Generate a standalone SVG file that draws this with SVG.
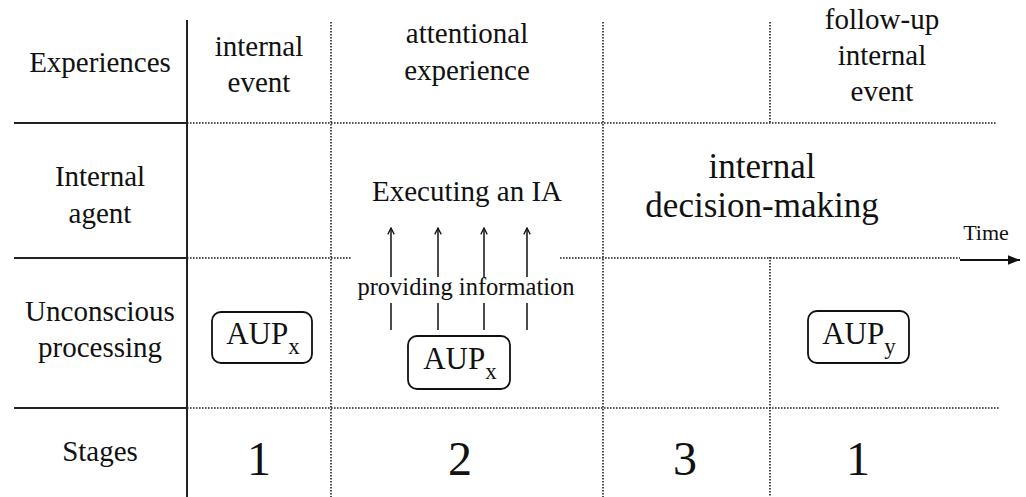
<svg xmlns="http://www.w3.org/2000/svg" width="1026" height="497" viewBox="0 0 1026 497">
<style>
text{font-family:"Liberation Serif","Times New Roman",serif;fill:#111;text-anchor:middle}
.lab{font-size:29px}
.big{font-size:35px}
.aup{font-size:31px}
.sub{font-size:23px}
.num{font-size:48px}
.solid{stroke:#222;stroke-width:2;fill:none}
.dot{stroke:#222;stroke-width:1.6;stroke-dasharray:1.6 1.4;fill:none}
.ln{stroke:#111;stroke-width:1.5;fill:none}
.box{stroke:#111;stroke-width:1.8;fill:#fff}
</style>
<defs>
<marker id="ah" viewBox="0 0 10 10" refX="9" refY="5" markerWidth="8" markerHeight="8" orient="auto" markerUnits="userSpaceOnUse"><path d="M1,1 L9,5 L1,9" fill="none" stroke="#111" stroke-width="1.6"/></marker>
<marker id="big" viewBox="0 0 10 10" refX="10" refY="5" markerWidth="12" markerHeight="12" orient="auto" markerUnits="userSpaceOnUse"><path d="M0,1 L10,5 L0,9 z" fill="#111"/></marker>
</defs>
<g id="grid">
<line class="solid" x1="187" y1="20" x2="187" y2="497"/>
<line class="solid" x1="14" y1="123" x2="187" y2="123"/>
<line class="solid" x1="14" y1="258" x2="187" y2="258"/>
<line class="solid" x1="14" y1="408" x2="187" y2="408"/>
<line class="dot" x1="187" y1="123" x2="997" y2="123"/>
<line class="dot" x1="187" y1="258" x2="352" y2="258"/>
<line class="dot" x1="560" y1="258" x2="960" y2="258"/>
<line class="dot" x1="187" y1="408" x2="1000" y2="408"/>
<line class="dot" x1="331" y1="22" x2="331" y2="497"/>
<line class="dot" x1="603" y1="22" x2="603" y2="497"/>
<line class="dot" x1="770" y1="22" x2="770" y2="124"/>
<line class="dot" x1="770" y1="257" x2="770" y2="497"/>
</g>
<g id="rowlabels">
<text class="lab" x="100" y="72">Experiences</text>
<text class="lab" x="100" y="186">Internal</text>
<text class="lab" x="100" y="223">agent</text>
<text class="lab" x="100" y="321">Unconscious</text>
<text class="lab" x="100" y="357">processing</text>
<text class="lab" x="100" y="461">Stages</text>
</g>
<g id="experiences">
<text class="lab" x="259" y="56">internal</text>
<text class="lab" x="259" y="92">event</text>
<text class="lab" x="467" y="43">attentional</text>
<text class="lab" x="467" y="80">experience</text>
<text class="lab" x="882" y="29">follow-up</text>
<text class="lab" x="882" y="65">internal</text>
<text class="lab" x="882" y="101">event</text>
</g>
<g id="agent">
<text class="lab" x="467" y="201">Executing an IA</text>
<text class="big" x="762" y="178">internal</text>
<text class="big" x="762" y="217">decision-making</text>
</g>
<g id="connectors">
<line class="ln" x1="391" y1="277" x2="391" y2="228" marker-end="url(#ah)"/>
<line class="ln" x1="438" y1="277" x2="438" y2="228" marker-end="url(#ah)"/>
<line class="ln" x1="484" y1="277" x2="484" y2="228" marker-end="url(#ah)"/>
<line class="ln" x1="527" y1="277" x2="527" y2="228" marker-end="url(#ah)"/>
<line class="ln" x1="391" y1="303" x2="391" y2="330"/>
<line class="ln" x1="438" y1="303" x2="438" y2="330"/>
<line class="ln" x1="484" y1="303" x2="484" y2="330"/>
<line class="ln" x1="527" y1="303" x2="527" y2="330"/>
<line x1="960" y1="260" x2="1020" y2="260" stroke="#111" stroke-width="2" marker-end="url(#big)"/>
</g>
<text x="466" y="295" style="font-size:24.5px">providing information</text>
<text x="986" y="240" style="font-size:22px">Time</text>
<g id="aup1">
<rect class="box" x="212" y="312" width="100" height="51" rx="9"/>
<text class="aup" x="263" y="344">AUP<tspan class="sub" dy="10">x</tspan></text>
</g>
<g id="aup2">
<rect class="box" x="408" y="336" width="102" height="53" rx="9"/>
<text class="aup" x="460" y="369">AUP<tspan class="sub" dy="10">x</tspan></text>
</g>
<g id="aup3">
<rect class="box" x="808" y="311" width="101" height="52" rx="9"/>
<text class="aup" x="859" y="344">AUP<tspan class="sub" dy="10">y</tspan></text>
</g>
<g id="stages">
<text class="num" x="259" y="475">1</text>
<text class="num" x="460" y="475">2</text>
<text class="num" x="685" y="475">3</text>
<text class="num" x="858" y="475">1</text>
</g>
</svg>
